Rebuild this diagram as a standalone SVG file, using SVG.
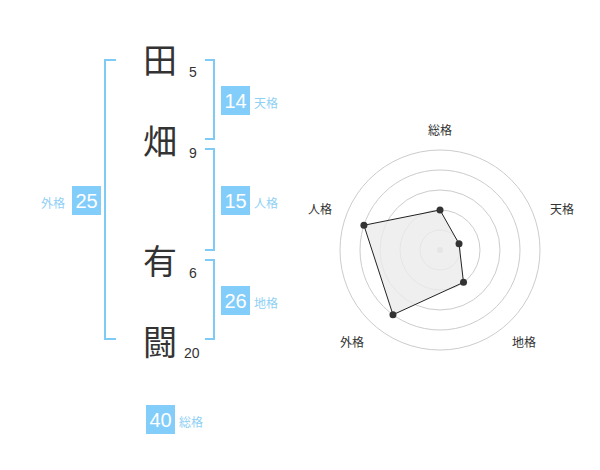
<svg xmlns="http://www.w3.org/2000/svg" width="600" height="470" viewBox="0 0 600 470">
<style>
.ch{font-family:"Noto Sans CJK JP","Noto Sans CJK SC",sans-serif;font-size:34px;fill:#333;text-anchor:middle}
.num{font-family:"Liberation Sans",Arial,sans-serif;font-size:14px;fill:#333}
.br{fill:none;stroke:#7fcbf5;stroke-width:2}
.box{fill:#82cdfa}
.bt{font-family:"Liberation Sans",Arial,sans-serif;font-size:20px;fill:#fff;text-anchor:middle}
.lb{font-family:"Noto Sans CJK JP","Noto Sans CJK SC",sans-serif;font-size:12px;fill:#8fd0f5}
.ring{fill:none;stroke:#ccc;stroke-width:1}
.ax{font-family:"Noto Sans CJK JP","Noto Sans CJK SC",sans-serif;font-size:12px;fill:#333;text-anchor:middle}
</style>
<rect width="600" height="470" fill="#fff"/>
<g id="connectors">
<path class="br" d="M116,60H105V339H116"/>
<path class="br" d="M205,60H214V139H205"/>
<path class="br" d="M205,149H214V250H205"/>
<path class="br" d="M205,260H214V339H205"/>
</g>
<g id="char1"><text class="ch" x="160" y="73">田</text><text class="num" x="189" y="77">5</text></g>
<g id="char2"><text class="ch" x="160" y="154">畑</text><text class="num" x="189" y="158">9</text></g>
<g id="char3"><text class="ch" x="160" y="274">有</text><text class="num" x="189" y="278">6</text></g>
<g id="char4"><text class="ch" x="160" y="355">闘</text><text class="num" x="184" y="358">20</text></g>
<g id="tenkaku"><rect class="box" x="221" y="86" width="29" height="29"/><text class="bt" x="235.5" y="108">14</text><text class="lb" x="254" y="108">天格</text></g>
<g id="jinkaku"><rect class="box" x="221" y="186" width="29" height="29"/><text class="bt" x="235.5" y="208">15</text><text class="lb" x="254" y="208">人格</text></g>
<g id="chikaku"><rect class="box" x="221" y="286" width="29" height="29"/><text class="bt" x="235.5" y="308">26</text><text class="lb" x="254" y="308">地格</text></g>
<g id="gaikaku"><rect class="box" x="72" y="186" width="29" height="29"/><text class="bt" x="86.5" y="208">25</text><text class="lb" x="41" y="208">外格</text></g>
<g id="soukaku"><rect class="box" x="146" y="405" width="29" height="29"/><text class="bt" x="160.5" y="427">40</text><text class="lb" x="179" y="427">総格</text></g>
<g id="radar">
<circle class="ring" cx="440" cy="250" r="20"/>
<circle class="ring" cx="440" cy="250" r="40"/>
<circle class="ring" cx="440" cy="250" r="60"/>
<circle class="ring" cx="440" cy="250" r="80"/>
<circle class="ring" cx="440" cy="250" r="100"/>
<circle cx="440" cy="250" r="3" fill="#ccc"/>
<polygon points="440,210 459.02,243.82 463.51,282.36 392.98,314.72 363.92,225.28" fill="#ebebeb" fill-opacity="0.8" stroke="#222" stroke-width="1"/>
<g fill="#333">
<circle cx="440" cy="210" r="3.5"/>
<circle cx="459.02" cy="243.82" r="3.5"/>
<circle cx="463.51" cy="282.36" r="3.5"/>
<circle cx="392.98" cy="314.72" r="3.5"/>
<circle cx="363.92" cy="225.28" r="3.5"/>
</g>
<text class="ax" x="440" y="135">総格</text>
<text class="ax" x="562" y="214">天格</text>
<text class="ax" x="320" y="214">人格</text>
<text class="ax" x="352" y="347">外格</text>
<text class="ax" x="524" y="347">地格</text>
</g>
</svg>
